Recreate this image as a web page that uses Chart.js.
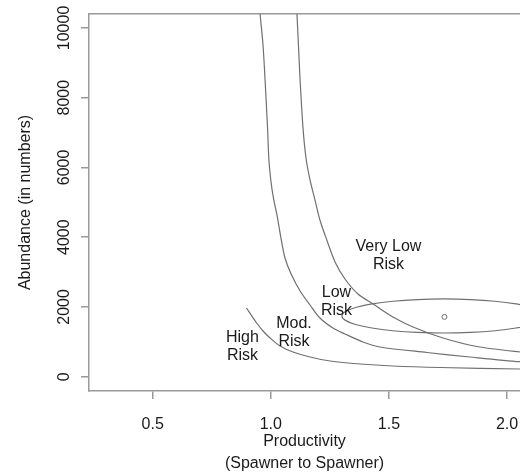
<!DOCTYPE html>
<html>
<head>
<meta charset="utf-8">
<script src="https://cdn.jsdelivr.net/npm/chart.js@4.4.0/dist/chart.umd.min.js"></script>
<style>
  html, body { margin: 0; padding: 0; background: #fff; }
  #wrap { width: 520px; height: 474px; }
</style>
</head>
<body>
<div id="wrap"><canvas id="plot" width="520" height="474"></canvas></div>
<script>
// boundary curves (productivity vs abundance)
const highModX = [0.897, 0.937, 0.967, 0.997, 1.039, 1.094, 1.166, 1.251, 1.378, 1.517, 1.716, 2.055, 2.2]
const highModY = [1970, 1569, 1311, 1110, 880, 708, 565, 450, 364, 307, 264, 221, 205]

const modLowX = [0.953, 0.967, 0.975, 0.986, 0.992, 1.001, 1.011, 1.026, 1.043, 1.060, 1.086, 1.124, 1.166, 1.208, 1.263, 1.314, 1.390, 1.462, 1.661, 1.843, 2.055, 2.2]
const modLowY = [10500, 9513, 8595, 7161, 6215, 5584, 5125, 4638, 3978, 3404, 2945, 2458, 2056, 1684, 1397, 1225, 995, 852, 694, 565, 430, 380]

const lowVeryLowX = [1.110, 1.117, 1.124, 1.136, 1.149, 1.166, 1.187, 1.208, 1.237, 1.272, 1.314, 1.369, 1.433, 1.517, 1.602, 1.729, 1.873, 2.055, 2.2]
const lowVeryLowY = [10500, 9513, 8509, 7161, 6272, 5641, 5068, 4494, 3921, 3290, 2802, 2372, 2085, 1712, 1425, 1110, 866, 708, 620]

// confidence region around the estimate
const ellipseX = [2.165, 2.150, 2.107, 2.038, 1.949, 1.845, 1.733, 1.621, 1.517, 1.428, 1.359, 1.316, 1.301, 1.316, 1.359, 1.428, 1.517, 1.621, 1.733, 1.845, 1.949, 2.038, 2.107, 2.150, 2.165]
const ellipseY = [1741, 1867, 1985, 2086, 2164, 2212, 2229, 2212, 2164, 2086, 1985, 1867, 1741, 1615, 1497, 1396, 1318, 1270, 1253, 1270, 1318, 1396, 1497, 1615, 1741]

const estimateX = [1.735]
const estimateY = [1715]

const xTicks = [0.5, 1.0, 1.5, 2.0]
const yTicks = [0, 2000, 4000, 6000, 8000, 10000]

const zoneNames = [['Very Low', 'Risk'], ['Low', 'Risk'], ['Mod.', 'Risk'], ['High', 'Risk']]
const zoneX = [1.498, 1.278, 1.098, 0.880]
const zoneY = [3462, 2148, 1268, 852]


function pts(xs, ys) {
    return xs.map((v, i) => ({x: v, y: ys[i]}))
}

function curve(xs, ys) {
    return {
        data: pts(xs, ys),
        showLine: true,
        borderColor: '#707070',
        borderWidth: 1.2,
        pointRadius: 0,
        tension: 0.3,
        clip: 0
    }
}

// risk zone names, placed in data units
const zoneText = {
    id: 'zoneText',
    afterDatasetsDraw(chart) {
        const {ctx, scales: {x, y}} = chart
        ctx.save()
        ctx.font = '16px "Liberation Sans", Arial, sans-serif'
        ctx.fillStyle = '#1a1a1a'
        ctx.textAlign = 'center'
        ctx.textBaseline = 'middle'
        zoneNames.forEach((lines, k) => {
            const px = x.getPixelForValue(zoneX[k])
            const py = y.getPixelForValue(zoneY[k])
            lines.forEach((t, i) => {
                ctx.fillText(t, px, py + (i - (lines.length - 1) / 2) * 18)
            })
        })
        ctx.restore()
    }
}

Chart.defaults.font.family = '"Liberation Sans", Arial, sans-serif'
Chart.defaults.font.size = 16
Chart.defaults.color = '#1a1a1a'

const boxColor = '#9a9a9a'

function noSidePad(s) {
    s.paddingLeft = 0
    s.paddingRight = 0
    s.paddingTop = 0
    s.paddingBottom = 0
}

new Chart(document.getElementById('plot'), {
    type: 'scatter',
    data: {
        datasets: [
            curve(highModX, highModY),
            curve(modLowX, modLowY),
            curve(lowVeryLowX, lowVeryLowY),
            curve(ellipseX, ellipseY),
            {
                data: pts(estimateX, estimateY),
                pointRadius: 2.5,
                pointBorderWidth: 1,
                pointBorderColor: '#707070',
                pointBackgroundColor: '#fff'
            }
        ]
    },
    options: {
        responsive: false,
        animation: false,
        devicePixelRatio: 1,
        layout: {autoPadding: false, padding: {top: 14, left: 0, right: 0, bottom: 0}},
        plugins: {legend: {display: false}, tooltip: {enabled: false}},
        scales: {
            x: {
                type: 'linear',
                position: 'bottom',
                min: 0.2303,
                max: 2.055,
                afterBuildTicks: s => { s.ticks = xTicks.map(v => ({value: v})) },
                afterFit: s => { s.height = 83; noSidePad(s) },
                ticks: {padding: 15.5, callback: v => Number(v).toFixed(1)},
                grid: {drawOnChartArea: false, drawTicks: true, tickLength: 8, color: boxColor, lineWidth: 1.5},
                border: {display: true, color: boxColor, width: 1.5},
                title: {
                    display: true,
                    text: ['Productivity', '(Spawner to Spawner)'],
                    font: {size: 16, lineHeight: '22px'},
                    padding: {top: 0, bottom: -1}
                }
            },
            top: {
                type: 'linear',
                position: 'top',
                afterFit: s => { s.height = 0; noSidePad(s) },
                ticks: {display: false},
                grid: {display: false},
                border: {display: true, color: boxColor, width: 1.5}
            },
            y: {
                type: 'linear',
                position: 'left',
                min: -410,
                max: 10400,
                afterBuildTicks: s => { s.ticks = yTicks.map(v => ({value: v})) },
                afterFit: s => { s.width = 89; noSidePad(s) },
                ticks: {padding: -6, minRotation: 90, maxRotation: 90, crossAlign: 'center', callback: v => String(v)},
                grid: {drawOnChartArea: false, drawTicks: true, tickLength: 8, color: boxColor, lineWidth: 1.5},
                border: {display: true, color: boxColor, width: 1.5},
                title: {
                    display: true,
                    text: 'Abundance (in numbers)',
                    font: {size: 16, lineHeight: '19px'},
                    padding: {top: 16.5, bottom: 0}
                }
            }
        }
    },
    plugins: [zoneText]
})
</script>
</body>
</html>
